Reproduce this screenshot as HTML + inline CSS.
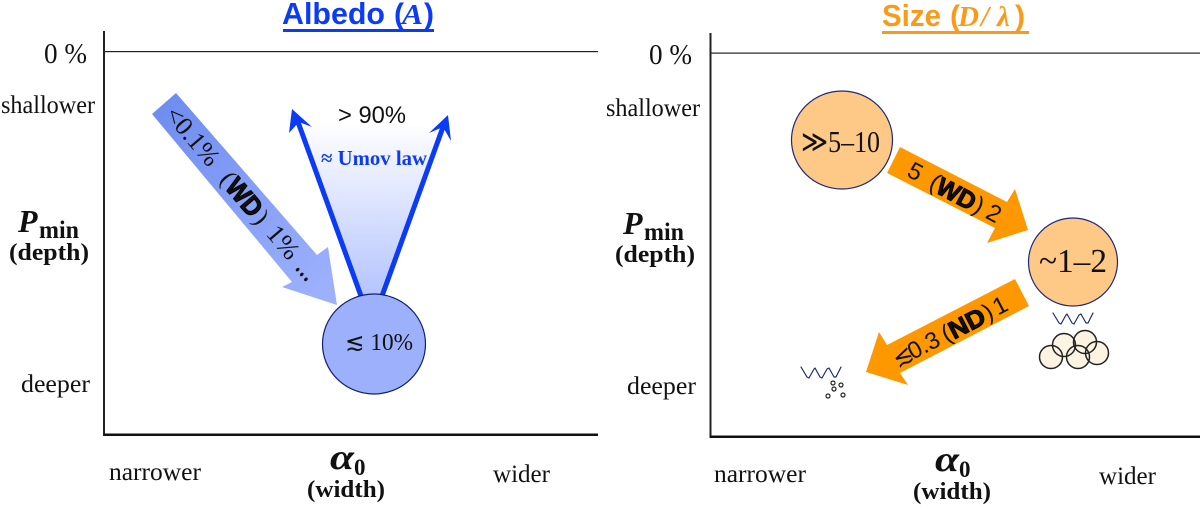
<!DOCTYPE html>
<html><head><meta charset="utf-8"><style>
html,body{margin:0;padding:0;background:#fff}
svg{display:block}
text{font-family:"Liberation Serif","DejaVu Serif",serif;fill:#111}
.s{font-family:"Liberation Sans",sans-serif}
.b{fill:#0b3bf4;font-weight:bold}
.o{fill:#fb9a1a;font-weight:bold}
</style></head><body>
<svg width="1200" height="505" viewBox="0 0 1200 505" xmlns="http://www.w3.org/2000/svg">
<defs>
<linearGradient id="a" gradientUnits="userSpaceOnUse" x1="165" y1="103" x2="320" y2="290"><stop offset="0" stop-color="#6f8df0"/><stop offset="1" stop-color="#9cb0fc"/></linearGradient>
<linearGradient id="w" x1="0" y1="0" x2="0" y2="1"><stop offset="0" stop-color="#fff"/><stop offset="1" stop-color="#b3c3fd"/></linearGradient>
</defs>

<!-- LEFT PANEL -->
<text x="282" y="24" class="s b" font-size="31" textLength="103" lengthAdjust="spacingAndGlyphs">Albedo</text>
<text x="394" y="24" class="s b" font-size="30">(</text>
<text x="402" y="24" class="b" font-size="29" font-style="italic" textLength="21" lengthAdjust="spacingAndGlyphs">A</text>
<text x="424" y="24" class="s b" font-size="30">)</text>
<rect x="283" y="29" width="151" height="3" fill="#0b3bf4"/>
<rect x="103" y="31" width="2" height="405" fill="#222"/>
<rect x="104" y="51" width="494" height="1.2" fill="#222"/>
<rect x="104" y="433.5" width="494" height="2.5" fill="#111"/>
<text x="44" y="63" font-size="28" textLength="43" lengthAdjust="spacingAndGlyphs">0 %</text>
<text x="1" y="113" font-size="25" textLength="94" lengthAdjust="spacingAndGlyphs">shallower</text>
<text x="21" y="392" font-size="25" textLength="69" lengthAdjust="spacingAndGlyphs">deeper</text>
<text x="18" y="232" font-size="32" font-weight="bold" font-style="italic">P</text>
<text x="39" y="238" font-size="25" font-weight="bold" textLength="40" lengthAdjust="spacingAndGlyphs">min</text>
<text x="9" y="260" font-size="24" font-weight="bold" textLength="80" lengthAdjust="spacingAndGlyphs">(depth)</text>
<text x="109" y="480" font-size="25" textLength="92" lengthAdjust="spacingAndGlyphs">narrower</text>
<text x="493" y="482" font-size="25" textLength="57" lengthAdjust="spacingAndGlyphs">wider</text>
<text x="330" y="469" font-size="36" font-weight="bold" font-style="italic" textLength="24" lengthAdjust="spacingAndGlyphs">α</text>
<text x="354" y="475" font-size="23" font-weight="bold">0</text>
<text x="307" y="497" font-size="24" font-weight="bold" textLength="78" lengthAdjust="spacingAndGlyphs">(width)</text>

<polygon points="152,114 176,93 317,255 328,247 337,305 282,287 292,282" fill="url(#a)"/>
<polygon points="296,122 444,128 381,300 362,300" fill="url(#w)"/>
<g stroke="#0b3bf4" stroke-width="5" fill="#0b3bf4">
<line x1="361" y1="296" x2="298" y2="122"/>
<line x1="382" y1="296" x2="443" y2="127"/>
</g>
<polygon points="292,109 312,127 299,122 289,133" fill="#0b3bf4"/>
<polygon points="448,115 451,141 443,127 429,133" fill="#0b3bf4"/>
<ellipse cx="374" cy="344" rx="51.5" ry="50" fill="#9cb0fc" stroke="#14206e" stroke-width="1.2"/>
<text x="345" y="350" font-size="24" textLength="68" lengthAdjust="spacingAndGlyphs">≲ 10%</text>
<text x="338" y="123" class="s" font-size="24" textLength="68" lengthAdjust="spacingAndGlyphs">&gt; 90%</text>
<text x="321" y="165" class="b" font-size="21" textLength="106" lengthAdjust="spacingAndGlyphs">≈ Umov law</text>
<g transform="translate(164,103.5) rotate(49.5)">
<text x="9" y="8" font-size="26" textLength="69" lengthAdjust="spacingAndGlyphs">&lt;0.1%</text>
<text x="94" y="8" font-size="25">(</text>
<text x="103" y="9" class="s" font-size="27" font-weight="bold" stroke="#000" stroke-width="1" textLength="41" lengthAdjust="spacingAndGlyphs">WD</text>
<text x="146" y="8" font-size="25">)</text>
<text x="165" y="8" font-size="26" textLength="36" lengthAdjust="spacingAndGlyphs">1%</text>
<text x="210" y="8" font-size="26" font-weight="bold" textLength="19" lengthAdjust="spacingAndGlyphs">…</text>
</g>

<!-- RIGHT PANEL -->
<text x="882" y="26" class="s o" font-size="31" textLength="59" lengthAdjust="spacingAndGlyphs">Size</text>
<text x="950" y="26" class="s o" font-size="30">(</text>
<text x="958" y="26" class="o" font-size="29" font-style="italic" textLength="21" lengthAdjust="spacingAndGlyphs">D</text>
<text x="981" y="26" class="o" font-size="29" font-style="italic">/</text>
<text x="997" y="26" class="o" font-size="29" font-style="italic">λ</text>
<text x="1015" y="26" class="s o" font-size="30">)</text>
<rect x="882" y="31" width="147" height="3" fill="#fb9a1a"/>
<rect x="709.5" y="33" width="2" height="405" fill="#222"/>
<rect x="710" y="52.5" width="490" height="1.2" fill="#222"/>
<rect x="710" y="435.5" width="490" height="2.5" fill="#111"/>
<text x="649" y="64" font-size="28" textLength="43" lengthAdjust="spacingAndGlyphs">0 %</text>
<text x="606" y="116" font-size="25" textLength="94" lengthAdjust="spacingAndGlyphs">shallower</text>
<text x="627" y="394" font-size="25" textLength="69" lengthAdjust="spacingAndGlyphs">deeper</text>
<text x="623" y="234" font-size="32" font-weight="bold" font-style="italic">P</text>
<text x="644" y="240" font-size="25" font-weight="bold" textLength="40" lengthAdjust="spacingAndGlyphs">min</text>
<text x="615" y="262" font-size="24" font-weight="bold" textLength="80" lengthAdjust="spacingAndGlyphs">(depth)</text>
<text x="714" y="482" font-size="25" textLength="92" lengthAdjust="spacingAndGlyphs">narrower</text>
<text x="1099" y="484" font-size="25" textLength="57" lengthAdjust="spacingAndGlyphs">wider</text>
<text x="935" y="471" font-size="36" font-weight="bold" font-style="italic" textLength="24" lengthAdjust="spacingAndGlyphs">α</text>
<text x="959" y="477" font-size="23" font-weight="bold">0</text>
<text x="913" y="499" font-size="24" font-weight="bold" textLength="78" lengthAdjust="spacingAndGlyphs">(width)</text>

<ellipse cx="842" cy="140" rx="50.5" ry="49" fill="#fec986" stroke="#1e2a78" stroke-width="1.2"/>
<text x="801" y="152" font-size="31" textLength="79" lengthAdjust="spacingAndGlyphs">≫5–10</text>
<ellipse cx="1073" cy="262" rx="44.5" ry="44" fill="#fec986" stroke="#1e2a78" stroke-width="1.2"/>
<text x="1039" y="272" font-size="34" textLength="68" lengthAdjust="spacingAndGlyphs">~1–2</text>
<polygon points="900,147 887,173 995,228 987,243 1028,230 1015,189 1007,202" fill="#fe9800"/>
<polygon points="1015,279 1029,306 900,373 908,385 866,372 879,332 887,345" fill="#fe9800"/>
<g transform="translate(893.5,160) rotate(28)">
<text x="18" y="8" class="s" font-size="24">5</text>
<text x="43" y="8" class="s" font-size="24">(</text>
<text x="51" y="9" class="s" font-size="25" font-weight="bold" stroke="#000" stroke-width="1" textLength="41" lengthAdjust="spacingAndGlyphs">WD</text>
<text x="93" y="8" class="s" font-size="24">)</text>
<text x="107" y="8" class="s" font-size="24">2</text>
</g>
<g transform="translate(893,359) rotate(-27.5)">
<text x="0" y="10" class="s" font-size="24">≲</text>
<text x="17" y="10" class="s" font-size="24" textLength="33" lengthAdjust="spacingAndGlyphs">0.3</text>
<text x="55" y="10" class="s" font-size="24">(</text>
<text x="63" y="11" class="s" font-size="25" font-weight="bold" stroke="#000" stroke-width="1" textLength="38" lengthAdjust="spacingAndGlyphs">ND</text>
<text x="102" y="10" class="s" font-size="24">)</text>
<text x="113" y="10" class="s" font-size="24">1</text>
</g>
<g fill="none" stroke="#1e2a78" stroke-width="1.2" stroke-linejoin="round" stroke-linecap="round">
<polyline points="1053,313 1059,323 1061,324 1066,315 1067,314 1072,323 1074,324 1079,315 1081,314 1086,323 1088,323 1093,313"/>
<polyline points="801,367 807,377 809,378 814,369 815,368 820,377 822,378 827,369 829,368 834,377 836,377 841,367"/>
</g>
<g fill="#fdf3e3" stroke="none">
<circle cx="1051" cy="357" r="11.5"/>
<circle cx="1064" cy="345" r="11.5"/>
<circle cx="1078" cy="357" r="11.5"/>
<circle cx="1085" cy="342" r="11.5"/>
<circle cx="1097" cy="353" r="11.5"/>
</g>
<g fill="none" stroke="#222" stroke-width="1.5">
<circle cx="1051" cy="357" r="11.5"/>
<circle cx="1064" cy="345" r="11.5"/>
<circle cx="1078" cy="357" r="11.5"/>
<circle cx="1085" cy="342" r="11.5"/>
<circle cx="1097" cy="353" r="11.5"/>
</g>
<g fill="#fff" stroke="#222" stroke-width="1.2">
<circle cx="833" cy="383" r="2"/><circle cx="841" cy="385" r="2"/><circle cx="834" cy="389" r="2"/><circle cx="828" cy="396" r="2"/><circle cx="843" cy="395" r="2"/>
</g>
</svg>
</body></html>
